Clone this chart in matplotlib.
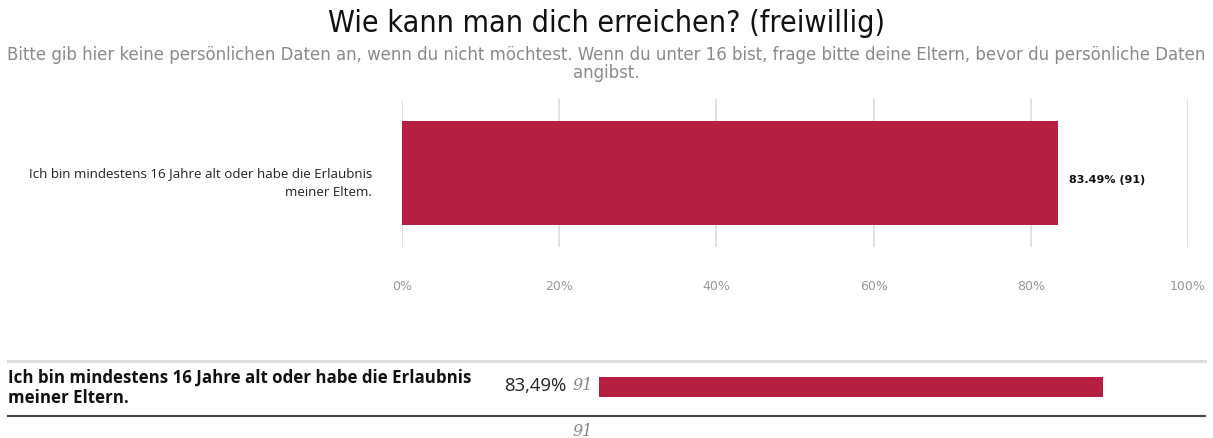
import matplotlib.pyplot as plt
from matplotlib.lines import Line2D

# ==== データ ====
title = "Wie kann man dich erreichen? (freiwillig)"
subtitle = ("Bitte gib hier keine persönlichen Daten an, wenn du nicht möchtest. Wenn du unter 16 bist, "
            "frage bitte deine Eltern, bevor du persönliche Daten\nangibst.")
categories = ["Ich bin mindestens 16 Jahre alt oder habe die Erlaubnis\nmeiner Eltem."]
table_labels = ["Ich bin mindestens 16 Jahre alt oder habe die Erlaubnis\nmeiner Eltern."]
percents = [83.49]
counts = [91]
total = 91
xticks = [0, 20, 40, 60, 80, 100]

bar_color = "#b51f42"
W, H = 1213, 439

fig = plt.figure(figsize=(W / 100, H / 100), dpi=100)

def fx(px):
    return px / W

def fy(py):
    return 1 - py / H

# ==== タイトル ====
fig.text(0.5, fy(23), title, ha="center", va="center", fontsize=21.8, family="DejaVu Sans",
         fontstretch="condensed", color="#111111")
fig.text(0.5, fy(64), subtitle, ha="center", va="center", fontsize=13.2, family="DejaVu Sans",
         fontstretch="condensed", color="#8a8a8a", linespacing=1.0)

# ==== メインの棒グラフ ====
ax = fig.add_axes([fx(402), fy(248), fx(786), 148 / H])
ax.barh([0], percents, height=0.7, color=bar_color, zorder=3)
ax.set_xlim(0, 100)
ax.set_ylim(-0.5, 0.5)
ax.set_xticks(xticks)
ax.set_xticklabels([f"{t}%" for t in xticks], fontsize=9, color="#999999", family="DejaVu Sans")
ax.tick_params(axis="x", length=0, pad=23)
ax.set_yticks([])
for s in ax.spines.values():
    s.set_visible(False)
ax.grid(axis="x", color="#dddddd", linewidth=1.2, zorder=0)

# カテゴリ名(左側)
for i, lab in enumerate(categories):
    ax.annotate(lab, xy=(0, i), xycoords=("axes fraction", "data"), xytext=(-30, -9),
                textcoords="offset pixels", ha="right", va="center", fontsize=9.6,
                color="#222222", family="Open Sans", linespacing=1.65)

for i, (p, c) in enumerate(zip(percents, counts)):
    ax.annotate(f"{p:.2f}% ({c})", xy=(p, i), xytext=(11, -6), textcoords="offset pixels",
                va="center", ha="left", fontsize=8, fontweight="bold", color="#111111",
                family="DejaVu Sans")

# ==== 下の表 ====
fig.add_artist(Line2D([fx(8), fx(1205)], [fy(362), fy(362)], color="#dddddd", linewidth=2.2))
fig.add_artist(Line2D([fx(8), fx(1205)], [fy(417), fy(417)], color="#444444", linewidth=1.5))

fig.text(fx(8), fy(388), table_labels[0], ha="left", va="center", fontsize=12.2,
         fontweight="bold", color="#111111", family="Open Sans", linespacing=1.2)
fig.text(fx(566), fy(386), f"{percents[0]:.2f}%".replace(".", ","), ha="right", va="center",
         fontsize=13.3, color="#222222", family="Open Sans")
fig.text(fx(572), fy(386), str(counts[0]), ha="left", va="center", fontsize=11.5,
         style="italic", color="#888888", family="DejaVu Serif")
fig.text(fx(572), fy(432), str(total), ha="left", va="center", fontsize=11.5,
         style="italic", color="#888888", family="DejaVu Serif")

ax2 = fig.add_axes([fx(599), fy(398), fx(604), 20 / H])
ax2.barh([0], percents, height=1.0, color=bar_color)
ax2.set_xlim(0, 100)
ax2.set_ylim(-0.5, 0.5)
ax2.axis("off")

plt.savefig("out.png", dpi=100)
